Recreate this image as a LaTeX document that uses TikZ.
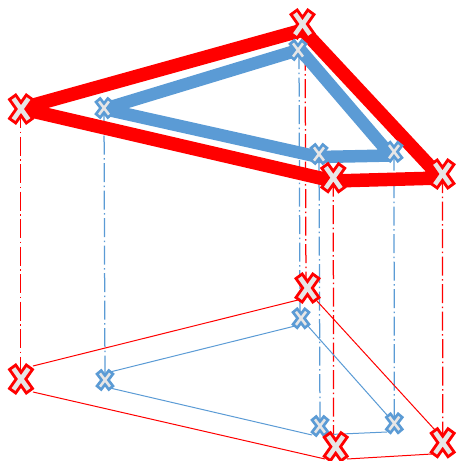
\documentclass[tikz,border=0pt]{standalone}
\definecolor{rd}{HTML}{FF0000}
\definecolor{bl}{HTML}{5B9BD5}
\definecolor{xfill}{HTML}{E7E6E6}
\tikzset{
  thickred/.style={draw=rd,line width=13.5pt,line join=bevel},
  thickblue/.style={draw=bl,line width=12.5pt,line join=bevel},
  thinred/.style={draw=rd,line width=1pt},
  thinblue/.style={draw=bl,line width=1pt},
  dropline/.style={line width=1.25pt,dash pattern=on 19pt off 3.5pt on 1.5pt off 3.5pt},
  bigx/.pic={\draw[rd,fill=xfill,line width=2.8pt,line join=miter]
    (-11.5,-9.5)--(-5.3,-14)--(0,-6.5)--(5.3,-14)--(11.5,-9.5)--(4.8,0)--(11.5,9.5)--(5.3,14)--(0,6.5)--(-5.3,14)--(-11.5,9.5)--(-4.8,0)--cycle;},
  smallx/.pic={\draw[bl,fill=xfill,line width=2.6pt,line join=miter]
    (-8,-6)--(-3.8,-9.5)--(0,-4.5)--(3.8,-9.5)--(8,-6)--(3.4,0)--(8,6)--(3.8,9.5)--(0,4.5)--(-3.8,9.5)--(-8,6)--(-3.4,0)--cycle;}
}
\begin{document}
\begin{tikzpicture}[x=1pt,y=-1pt]
\useasboundingbox (0,0) rectangle (457,461);
% marker positions: upper outer
\coordinate (a1) at (21,109);
\coordinate (a2) at (302.5,24);
\coordinate (a3) at (442.5,174);
\coordinate (a4) at (333.3,177.7);
% upper inner
\coordinate (b1) at (104,108);
\coordinate (b2) at (298,50);
\coordinate (b3) at (394,151.7);
\coordinate (b4) at (319,154);
% lower outer
\coordinate (c1) at (21,379);
\coordinate (c2) at (307.5,288);
\coordinate (c3) at (442.7,442.7);
\coordinate (c4) at (335.7,446.7);
% lower inner
\coordinate (d1) at (105,380);
\coordinate (d2) at (301,318.3);
\coordinate (d3) at (394.3,423.3);
\coordinate (d4) at (320,426);
% thick polygon vertices
\coordinate (p1) at (21,108.5);
\coordinate (p2) at (303,30);
\coordinate (p3) at (441,178);
\coordinate (p4) at (333,181);
\coordinate (q1) at (104,109);
\coordinate (q2) at (300,49.5);
\coordinate (q3) at (391,155.5);
\coordinate (q4) at (319,157);
% thin line ends
\coordinate (r1) at (33,366);
\coordinate (r2) at (298,300);
\coordinate (r3) at (317,301);
\coordinate (r4) at (435,430);
\coordinate (r5) at (432,454);
\coordinate (r6) at (347,459);
\coordinate (r7) at (325,459);
\coordinate (r8) at (33,392);
\coordinate (s1) at (110,372);
\coordinate (s2) at (295,326);
\coordinate (s3) at (307,325);
\coordinate (s4) at (387,415);
\coordinate (s5) at (387,432);
\coordinate (s6) at (330,434.5);
\coordinate (s7) at (312,435);
\coordinate (s8) at (110,388);
% drop lines
\coordinate (e1) at (305,24);
\coordinate (e2) at (306,289);
\coordinate (e3) at (333.5,447);
\coordinate (f1) at (299,50);
\coordinate (f2) at (300,318);
\draw[dropline,rd] (20.7,109)--(20.7,379);
\draw[dropline,rd] (e1)--(e2);
\draw[dropline,rd] (a3)--(c3);
\draw[dropline,rd] (a4)--(e3);
\draw[dropline,bl] (b1)--(d1);
\draw[dropline,bl] (f1)--(f2);
\draw[dropline,bl] (b3)--(d3);
\draw[dropline,bl] (b4)--(d4);
% thin outlines
\draw[thinred] (r1)--(r2);
\draw[thinred] (r3)--(r4);
\draw[thinred] (r5)--(r6);
\draw[thinred] (r7)--(r8);
\draw[thinblue] (s1)--(s2);
\draw[thinblue] (s3)--(s4);
\draw[thinblue] (s5)--(s6);
\draw[thinblue] (s7)--(s8);
% thick polygons
\draw[thickred] (p1)--(p2)--(p3)--(p4)--cycle;
\draw[thickblue] (q1)--(q2)--(q3)--(q4)--cycle;
% markers
\foreach \n in {b1,b2,b3,b4,d1,d2,d3,d4} \pic at (\n) {smallx};
\foreach \n in {a1,a2,a3,a4,c1,c2,c3,c4} \pic at (\n) {bigx};
\end{tikzpicture}
\end{document}
